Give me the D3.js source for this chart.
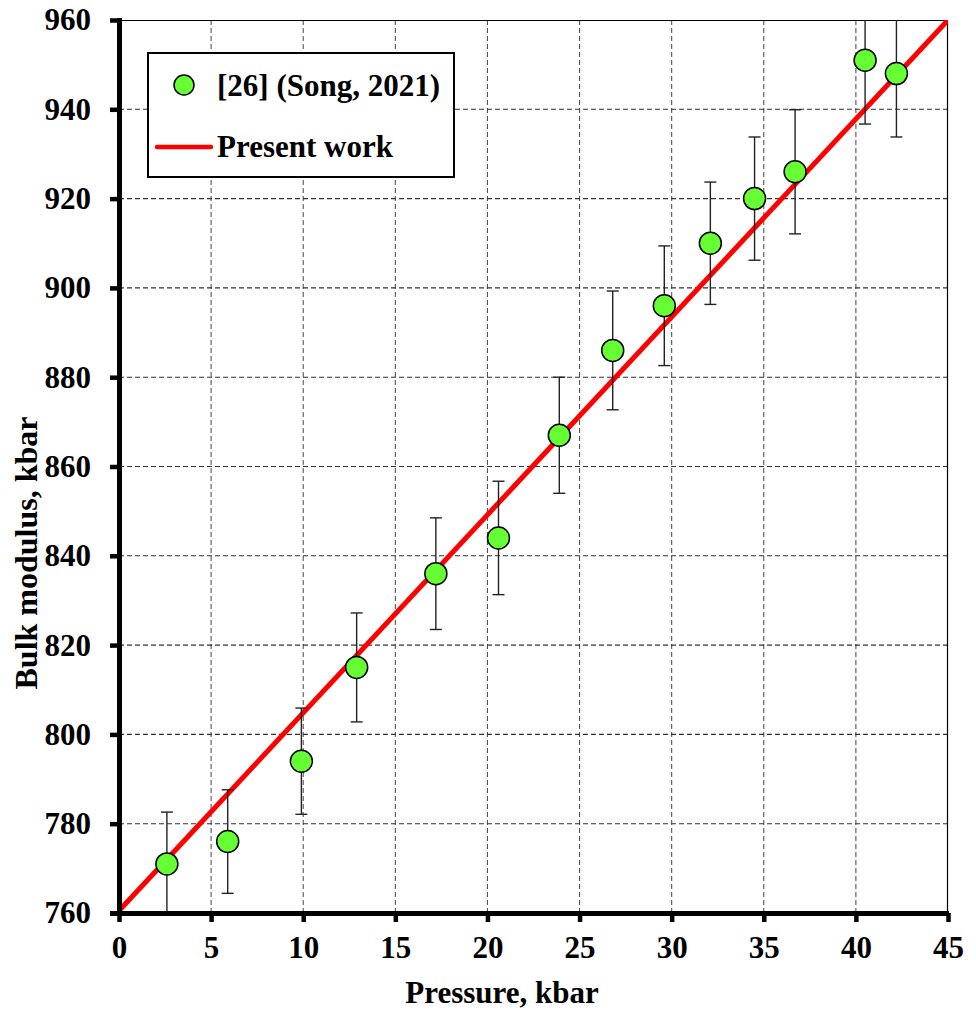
<!DOCTYPE html>
<meta charset="utf-8">
<style>
body { margin: 0; background: #fff; }
text { font-family: "Liberation Serif", "Times New Roman", serif; font-weight: bold; fill: #000; }
</style>
<body>
<script src="https://cdn.jsdelivr.net/npm/d3@7"></script>
<script>

// data
var pressure = [2.6, 5.9, 9.9, 12.9, 17.2, 20.6, 23.9, 26.8, 29.6, 32.1, 34.5, 36.7, 40.5, 42.2];
var modulus  = [771, 776, 794, 815, 836, 844, 867, 886, 896, 910, 920, 926, 951, 948];
var errors   = [11.6, 11.6, 11.9, 12.2, 12.5, 12.7, 13.0, 13.3, 13.4, 13.7, 13.8, 13.9, 14.3, 14.2];
var fitP = [0, 45];
var fitB = [760.5, 960];
var xTicks = [0, 5, 10, 15, 20, 25, 30, 35, 40, 45];
var yTicks = [760, 780, 800, 820, 840, 860, 880, 900, 920, 940, 960];

var margin = {top: 20, right: 28, bottom: 99, left: 119},
    width = 829,
    height = 893;

var svg = d3.select("body").append("svg")
    .attr("width", 976)
    .attr("height", 1012);

var g = svg.append("g")
    .attr("transform", "translate(" + margin.left + "," + margin.top + ")");

var x = d3.scaleLinear().domain([0, 45]).range([0, width]);
var y = d3.scaleLinear().domain([760, 960]).range([height, 0]);

g.append("clipPath").attr("id", "clip")
  .append("rect").attr("width", width).attr("height", height);

// grid
g.selectAll(".vgrid").data(xTicks.slice(1, -1)).enter().append("line")
  .attr("x1", function(d) { return x(d); }).attr("x2", function(d) { return x(d); })
  .attr("y1", 0).attr("y2", height)
  .attr("stroke", "#555").attr("stroke-width", 1.1).attr("stroke-dasharray", "5,3");
g.selectAll(".hgrid").data(yTicks.slice(1, -1)).enter().append("line")
  .attr("x1", 0).attr("x2", width)
  .attr("y1", function(d) { return y(d); }).attr("y2", function(d) { return y(d); })
  .attr("stroke", "#333").attr("stroke-width", 1.1).attr("stroke-dasharray", "5,3");

// thin top / right frame
g.append("path")
  .attr("d", "M0,0.5H" + (width - 0.5) + "V" + height)
  .attr("fill", "none").attr("stroke", "#000").attr("stroke-width", 1.2);

var plot = g.append("g").attr("clip-path", "url(#clip)");

// fitted line
plot.append("line")
  .attr("x1", x(fitP[0])).attr("y1", y(fitB[0]))
  .attr("x2", x(fitP[1])).attr("y2", y(fitB[1]))
  .attr("stroke", "#ff0000").attr("stroke-width", 5);

// error bars
var pts = pressure.map(function(p, i) { return {p: p, b: modulus[i], e: errors[i]}; });
var eb = plot.selectAll(".err").data(pts).enter().append("g")
  .attr("stroke", "#222").attr("stroke-width", 1.4);
eb.append("line")
  .attr("x1", function(d) { return x(d.p); }).attr("x2", function(d) { return x(d.p); })
  .attr("y1", function(d) { return y(d.b - d.e); }).attr("y2", function(d) { return y(d.b + d.e); });
eb.append("line")
  .attr("x1", function(d) { return x(d.p) - 6; }).attr("x2", function(d) { return x(d.p) + 6; })
  .attr("y1", function(d) { return y(d.b + d.e); }).attr("y2", function(d) { return y(d.b + d.e); });
eb.append("line")
  .attr("x1", function(d) { return x(d.p) - 6; }).attr("x2", function(d) { return x(d.p) + 6; })
  .attr("y1", function(d) { return y(d.b - d.e); }).attr("y2", function(d) { return y(d.b - d.e); });

g.selectAll(".pt").data(pts).enter().append("circle")
  .attr("cx", function(d) { return x(d.p); })
  .attr("cy", function(d) { return y(d.b); })
  .attr("r", 11)
  .attr("fill", "#66ff33").attr("stroke", "#000").attr("stroke-width", 1.5);

// axes
var xAxis = g.append("g").attr("transform", "translate(0," + height + ")")
  .call(d3.axisBottom(x).tickValues(xTicks).tickSize(9).tickPadding(14));
var yAxis = g.append("g")
  .call(d3.axisLeft(y).tickValues(yTicks).tickSize(9).tickPadding(19));
[xAxis, yAxis].forEach(function(a) {
  a.select(".domain").attr("stroke-width", 5);
  a.selectAll(".tick line").attr("stroke-width", 4.5);
  a.selectAll("text").style("font-size", "31px").style("font-family", null);
  a.attr("font-family", null);
});
xAxis.select(".domain").attr("d", "M-9,0.5H" + (width + 1));
yAxis.select(".domain").attr("d", "M0.5," + (height + 2) + "V-2");

// axis titles
svg.append("text")
  .attr("x", 502).attr("y", 1003)
  .attr("text-anchor", "middle").style("font-size", "31px")
  .text("Pressure, kbar");
svg.append("text")
  .attr("transform", "translate(37,553) rotate(-90)")
  .attr("text-anchor", "middle").style("font-size", "32px")
  .text("Bulk modulus, kbar");

// legend
var lg = svg.append("g");
lg.append("rect").attr("x", 148).attr("y", 53).attr("width", 306).attr("height", 124)
  .attr("fill", "#fff").attr("stroke", "#000").attr("stroke-width", 2);
lg.append("circle").attr("cx", 184).attr("cy", 85).attr("r", 10)
  .attr("fill", "#66ff33").attr("stroke", "#000").attr("stroke-width", 1.5);
lg.append("text").attr("x", 217).attr("y", 96).style("font-size", "31px").text("[26] (Song, 2021)");
lg.append("line").attr("x1", 157).attr("x2", 211).attr("y1", 147).attr("y2", 147)
  .attr("stroke", "#ff0000").attr("stroke-width", 4.5).attr("stroke-linecap", "round");
lg.append("text").attr("x", 217).attr("y", 157).style("font-size", "31px").text("Present work");

</script>
</body>
